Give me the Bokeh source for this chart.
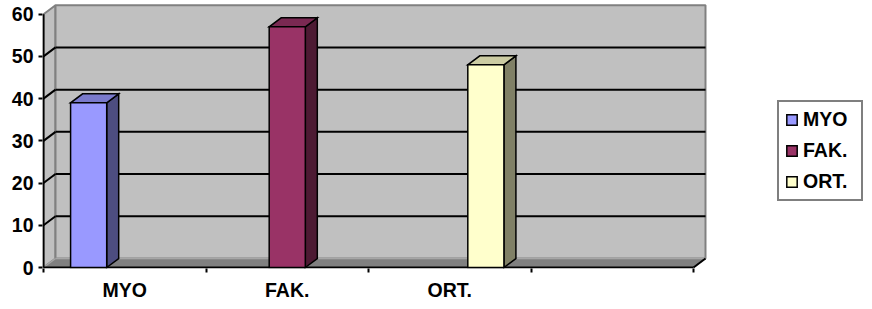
from bokeh.plotting import figure
from bokeh.models import (Legend, LegendItem, FixedTicker, ColumnDataSource, Range1d)
from bokeh.embed import file_html
from bokeh.resources import INLINE

# ---------------- data ----------------
categories = ["MYO", "FAK.", "ORT.", ""]
series = ["MYO", "FAK.", "ORT."]
values = [39, 57, 48]
series_category = [0, 1, 2]          # category index where each series has its bar
y_ticks = [0, 10, 20, 30, 40, 50, 60]
front_colors = ["#9999FF", "#993366", "#FFFFCC"]
top_colors = ["#7A7ACC", "#7A2952", "#CCCCA3"]
side_colors = ["#4D4D80", "#4D1A33", "#808066"]

# ---------------- geometry (pixel based 3D depth) ----------------
Y_MAX = 60
N_CAT = len(categories)
PX_X = 162.5               # pixels per category
PX_Y = 253.3 / Y_MAX       # pixels per value unit
DX = 12 / PX_X             # wall depth in data units
DY = 9 / PX_Y
GAP = 1.5                  # gap width (150%)
BW = 1.0 / (len(series) + GAP)

FIG_W = 872
FIG_H = 309
B_LEFT = 42
B_TOP = 3
B_RIGHT = 2
FRAME_W = FIG_W - B_LEFT - B_RIGHT
FRAME_H = 265

p = figure(width=FIG_W, height=FIG_H, output_backend="svg", toolbar_location=None,
           x_range=Range1d(-1 / PX_X, (FRAME_W - 1) / PX_X),
           y_range=Range1d(-1 / PX_Y, (FRAME_H - 1) / PX_Y),
           min_border_left=B_LEFT, min_border_top=B_TOP,
           min_border_right=B_RIGHT,
           min_border_bottom=FIG_H - B_TOP - FRAME_H)
p.outline_line_color = None
p.background_fill_color = None
p.border_fill_color = "white"
p.xgrid.visible = False
p.ygrid.visible = False

WALL = "#C0C0C0"
EDGE = "#808080"

# left side wall
p.patch([0, DX, DX, 0], [0, DY, Y_MAX + DY, Y_MAX], fill_color=WALL,
        line_color=EDGE, line_width=2)
# back wall
p.quad(left=[DX], right=[N_CAT + DX], bottom=[DY], top=[Y_MAX + DY],
       fill_color=WALL, line_color=EDGE, line_width=2)
# floor
p.patch([0, N_CAT, N_CAT + DX, DX], [0, 0, DY, DY], fill_color=EDGE, line_color=None)
p.segment(x0=[DX, 0], y0=[DY, 0], x1=[N_CAT + DX, DX], y1=[DY, DY],
          line_color="#A6A6A6", line_width=1.5)
p.segment(x0=[N_CAT], y0=[0], x1=[N_CAT + DX], y1=[DY], line_color="black", line_width=2)

# gridlines on back wall and left wall
grid_vals = [v for v in y_ticks if 0 < v < Y_MAX]
p.segment(x0=[DX] * len(grid_vals), y0=[v + DY for v in grid_vals],
          x1=[N_CAT + DX] * len(grid_vals), y1=[v + DY for v in grid_vals],
          line_color="black", line_width=2)
p.segment(x0=[0] * len(grid_vals), y0=grid_vals,
          x1=[DX] * len(grid_vals), y1=[v + DY for v in grid_vals],
          line_color="black", line_width=2)

# front axis lines
p.segment(x0=[0, 0], y0=[0, 0], x1=[0, N_CAT], y1=[Y_MAX, 0],
          line_color="black", line_width=2)

# bars
lefts = [c + GAP * BW / 2 + i * BW for i, c in enumerate(series_category)]
rights = [l + BW for l in lefts]
top_xs = [[l, r, r + DX, l + DX] for l, r in zip(lefts, rights)]
top_ys = [[v, v, v + DY, v + DY] for v in values]
side_xs = [[r, r + DX, r + DX, r] for r in rights]
side_ys = [[0, DY, v + DY, v] for v in values]

p.patches(xs=side_xs, ys=side_ys, fill_color=side_colors, line_color="black",
          line_width=1.5, line_join="miter")
p.patches(xs=top_xs, ys=top_ys, fill_color=top_colors, line_color="black",
          line_width=1.5, line_join="miter")
src = ColumnDataSource(dict(left=lefts, right=rights, bottom=[0] * len(values),
                            top=values, color=front_colors, name=series))
bars = p.quad(left="left", right="right", bottom="bottom", top="top", source=src,
              fill_color="color", line_color="black", line_width=1.5, line_join="miter")

# axes
FONT = "Liberation Sans"
FSIZE = "19.5px"
yax = p.yaxis[0]
yax.ticker = FixedTicker(ticks=y_ticks)
yax.axis_line_color = None
yax.major_tick_out = 4
yax.major_tick_in = 0
yax.major_tick_line_width = 2
yax.minor_tick_line_color = None
yax.major_label_text_font = FONT
yax.major_label_text_font_style = "bold"
yax.major_label_text_font_size = FSIZE
yax.major_label_text_color = "black"
yax.major_label_standoff = 5

xax = p.xaxis[0]
xax.ticker = FixedTicker(ticks=[i + 0.5 for i in range(N_CAT)],
                         minor_ticks=list(range(N_CAT + 1)))
xax.major_label_overrides = {i + 0.5: c for i, c in enumerate(categories)}
xax.axis_line_color = None
xax.major_tick_out = 0
xax.major_tick_in = 0
xax.minor_tick_out = 4
xax.minor_tick_in = 0
xax.minor_tick_line_width = 2
xax.minor_tick_line_color = "black"
xax.major_label_text_font = FONT
xax.major_label_text_font_style = "bold"
xax.major_label_text_font_size = FSIZE
xax.major_label_text_color = "black"
xax.major_label_standoff = 6

# legend (inside the wide frame, right of the walls)
legend = Legend(items=[LegendItem(label=s, renderers=[bars], index=i) for i, s in enumerate(series)],
                location=(735, 67), orientation="vertical",
                label_text_font=FONT, label_text_font_style="bold",
                label_text_font_size=FSIZE, label_text_color="black",
                glyph_width=13, glyph_height=13, label_standoff=5,
                label_width=52, label_height=21, spacing=8, padding=6, margin=0,
                border_line_color="black", border_line_width=2,
                background_fill_color="white", background_fill_alpha=1)
p.add_layout(legend)

open("out.html", "w").write(file_html(p, INLINE))
